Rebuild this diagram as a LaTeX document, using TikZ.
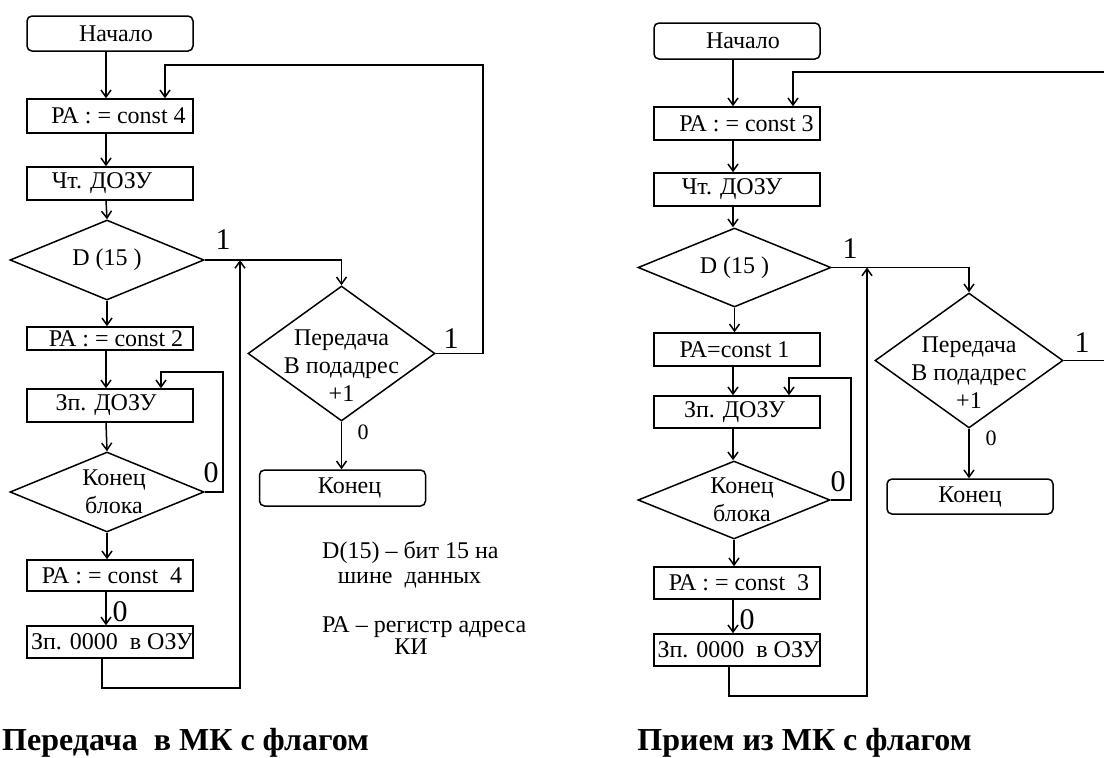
\documentclass[tikz,border=0pt]{standalone}
\usepackage{fontspec}
\setmainfont{Liberation Serif}
\usetikzlibrary{shapes.geometric,arrows.meta}
\begin{document}
\begin{tikzpicture}[x=1pt,y=-1pt,
  box/.style={draw, line width=1.5pt, rectangle, minimum width=166pt, inner sep=0pt, font=\fontsize{24}{28}\selectfont},
  term/.style={box, rounded corners=5pt},
  dec/.style={draw, line width=1.5pt, diamond, inner sep=0pt},
  arr/.style={line width=1.5pt, -{Straight Barb[length=7pt,width=10pt]}},
  txt/.style={font=\fontsize{24}{28}\selectfont, inner sep=0pt},
  big/.style={font=\fontsize{30}{30}\selectfont, inner sep=0pt},
  small/.style={font=\fontsize{22}{22}\selectfont, inner sep=0pt},
  captxt/.style={font=\bfseries\fontsize{32}{32}\selectfont, inner sep=0pt}
]
\useasboundingbox (0,0) rectangle (1104,758);

% ---------------- left chart ----------------
\node[term, minimum height=35pt] (startL) at (110,33.5) {\hspace*{12pt}Начало};
\node[box, minimum height=34pt] (pa4) at (110,116) {\hspace*{17pt}РА : = const 4};
\node[box, minimum height=33pt] (rdL) at (110,183.5) {Чт. ДОЗУ\hspace*{16pt}};
\node[dec, minimum width=194pt, minimum height=80pt, label={[txt]center:D (15 )}] (d15L) at (107,260) {};
\node[box, minimum height=23pt] (pa2) at (110,338.5) {\hspace*{12pt}РА : = const 2};
\node[box, minimum height=33pt] (wrL) at (110,405.5) {Зп. ДОЗУ\hspace*{8pt}};
\node[dec, minimum width=194pt, minimum height=80pt, label={[txt,align=center,xshift=7pt]center:Конец\\блока}] (ebL) at (107,492) {};
\node[box, minimum height=31pt] (pa4b) at (110,575.5) {\hspace*{4pt}РА : = const\ \ 4};
\node[box, minimum height=32pt] (zpL) at (110,642) {\hspace*{4pt}Зп. 0000\ \ в ОЗУ};
\node[dec, minimum width=187pt, minimum height=135pt, label={[txt,align=center,yshift=-12pt]center:Передача\\В подадрес\\+1}] (txL) at (341.5,353.5) {};
\node[term, minimum height=36pt] (endL) at (342.5,488) {\hspace*{14pt}Конец};

\coordinate (cL) at (106,0);
\draw[arr] (startL.south -| cL) -- (pa4.north -| cL);
\draw[arr] (pa4.south -| cL) -- (rdL.north -| cL);
\draw[arr] (rdL.south -| cL) -- (d15L.north);
\draw[arr] (d15L.south) -- (pa2.north -| d15L.south);
\draw[arr] (pa2.south -| cL) -- (wrL.north -| cL);
\draw[arr] (wrL.south -| cL) -- (ebL.north);
\draw[arr] (ebL.south) -- (pa4b.north -| ebL.south);
\draw[arr] (pa4b.south -| cL) -- (zpL.north -| cL);

\coordinate (rtL) at (483,65);
\draw[arr] (txL.east) -| (rtL) -| ([xshift=55pt]pa4.north);
\draw[arr] (d15L.east) -| (txL.north);
\coordinate (ilL) at (223,372);
\draw[arr] (ebL.east) -| (ilL) -| ([xshift=51pt]wrL.north);
\coordinate (blL) at (240,688);
\coordinate (jL) at (240,260);
\draw[arr] ([xshift=-8pt]zpL.south) |- (blL) -- (jL);
\draw[arr] (txL.south) -- (txL.south |- endL.north);

\node[big] (oneL1) at (223,240) {1};
\node[big] (oneL2) at (451,339) {1};
\node[big] (zeroL1) at (211,473) {0};
\node[big] (zeroL2) at (120,612) {0};
\node[small] (zeroL3) at (363,432) {0};

\node[txt, anchor=base west] (n1) at (322,558) {D(15) – бит 15 на};
\node[txt, anchor=base] (n2) at (409.5,583) {шине\ \ данных};
\node[txt, anchor=base west] (n3) at (322,632) {РА – регистр адреса};
\node[txt, anchor=base] (n4) at (411,654) {КИ};

\node[captxt, anchor=base west] (capL) at (2,750) {Передача\ \ в МК с флагом};

% ---------------- right chart ----------------
\node[term, minimum height=36pt] (startR) at (737,41) {\hspace*{12pt}Начало};
\node[box, minimum height=33pt] (pa3) at (737,123.5) {\hspace*{19pt}РА : = const 3};
\node[box, minimum height=33pt] (rdR) at (737,189.5) {Чт. ДОЗУ\hspace*{10pt}};
\node[dec, minimum width=193pt, minimum height=79pt, label={[txt]center:D (15 )}] (d15R) at (734.5,267.5) {};
\node[box, minimum height=33pt] (pa1) at (737,349.5) {РА=const 1\hspace*{5pt}};
\node[box, minimum height=32pt] (wrR) at (737,412) {Зп. ДОЗУ\hspace*{5pt}};
\node[dec, minimum width=192pt, minimum height=78pt, label={[txt,align=center,xshift=8pt]center:Конец\\блока}] (ebR) at (734,500) {};
\node[box, minimum height=32pt] (pa3b) at (737,583) {\hspace*{4pt}РА : = const\ \ 3};
\node[box, minimum height=32pt] (zpR) at (737,650) {\hspace*{3pt}Зп. 0000\ \ в ОЗУ};
\node[dec, minimum width=188pt, minimum height=135pt, label={[txt,align=center,yshift=-12pt]center:Передача\\В подадрес\\+1}] (txR) at (969,360.5) {};
\node[term, minimum height=35pt] (endR) at (970,496.5) {Конец};

\coordinate (cR) at (733,0);
\draw[arr] (startR.south -| cR) -- (pa3.north -| cR);
\draw[arr] (pa3.south -| cR) -- (rdR.north -| cR);
\draw[arr] (rdR.south -| cR) -- (d15R.north -| cR);
\draw[arr] (d15R.south) -- (pa1.north -| d15R.south);
\draw[arr] (pa1.south -| cR) -- (wrR.north -| cR);
\draw[arr] (wrR.south -| cR) -- (ebR.north -| cR);
\draw[arr] (ebR.south) -- (pa3b.north -| ebR.south);
\draw[arr] (pa3b.south -| cR) -- (zpR.north -| cR);

\coordinate (rrR) at (1112,72);
\draw[arr] (txR.east) -| (rrR) -| ([xshift=56pt]pa3.north);
\draw[arr] (d15R.east) -| (txR.north);
\coordinate (ilR) at (851,378);
\draw[arr] (ebR.east) -| (ilR) -| ([xshift=52pt]wrR.north);
\coordinate (blR) at (867,696);
\coordinate (jR) at (867,267.5);
\draw[arr] ([xshift=-8pt]zpR.south) |- (blR) -- (jR);
\draw[arr] (txR.south) -- (txR.south |- endR.north);

\node[big] (oneR1) at (850,249) {1};
\node[big] (oneR2) at (1082,343) {1};
\node[big] (zeroR1) at (838,482) {0};
\node[big] (zeroR2) at (747,620) {0};
\node[small] (zeroR3) at (991,438) {0};

\node[captxt, anchor=base] (capR) at (804.5,750) {Прием из МК с флагом};
\end{tikzpicture}
\end{document}
